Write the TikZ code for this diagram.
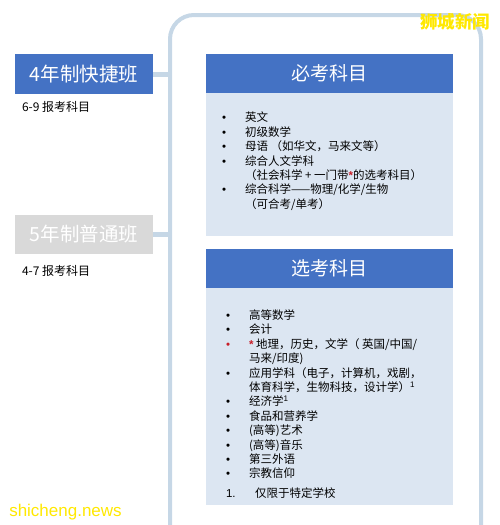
\documentclass[tikz,border=0pt]{standalone}
\usepackage{fontspec}
\setmainfont{Noto Sans CJK SC}
\newfontfamily\latinfont{Liberation Sans}
\usetikzlibrary{positioning}

\definecolor{officeblue}{RGB}{68,114,196}
\definecolor{paleblue}{RGB}{220,230,242}
\definecolor{framegrey}{RGB}{198,215,230}
\definecolor{boxgrey}{RGB}{217,217,217}
\definecolor{markred}{RGB}{200,30,40}
\definecolor{stampyellow}{RGB}{255,232,0}

\newcommand{\redmark}{\textcolor{markred}{\latinfont\bfseries *}}
\newcommand{\bul}{{\latinfont •}}
\newcommand{\fnote}{\textsuperscript{\latinfont 1}}

\begin{document}
\begin{tikzpicture}[
  x=1pt, y=-1pt,
  track/.style={
    fill=officeblue,
    text=white,
    minimum width=138pt,
    minimum height=40pt,
    inner sep=0pt,
    font=\fontsize{19.5}{22}\selectfont
  },
  header/.style={
    fill=officeblue,
    text=white,
    minimum width=247pt,
    minimum height=38.5pt,
    inner sep=0pt,
    font=\fontsize{19}{22}\selectfont
  },
  body/.style={
    fill=paleblue,
    minimum width=247pt,
    inner sep=0pt
  },
  listtext/.style={
    inner sep=0pt,
    anchor=north west,
    font=\fontsize{11.5}{14.4}\selectfont
  },
  note/.style={inner sep=0pt, font=\fontsize{12}{14}\selectfont},
  frame/.style={draw=framegrey, line width=4pt, rounded corners=24pt},
  link/.style={draw=framegrey, line width=5pt},
  stamp/.style={inner sep=0pt, text=stampyellow}
]
\useasboundingbox (0,0) rectangle (500,525);

% Frame
\draw[frame] (170,526) -- (170,15) -- (481,15) -- (481,526);
\coordinate (frameleft) at (170,15);

% Tracks
\node[track] (fast) at (84,74) {4年制快捷班};
\node[track, fill=boxgrey, minimum height=39pt] (normal) at (84,234.5) {5年制普通班};
\node[note, below right=7pt and 7pt of fast.south west] (fastnote) {6-9 报考科目};
\node[note, below right=11pt and 7pt of normal.south west] (normalnote) {4-7 报考科目};

% Links
\draw[link] (fast.east) -- (fast.east -| frameleft);
\draw[link] (normal.east) -- (normal.east -| frameleft);

% Required subjects
\node[header] (reqhead) at (329.5,73.25) {必考科目};
\node[body, minimum height=143pt, below=0pt of reqhead] (reqbody) {};
\node[listtext, below right=19pt and 16pt of reqbody.north west] (reqlist) {%
\begin{tabular}{@{}p{23pt}@{}l@{}}
\bul & 英文\\
\bul & 初级数学\\
\bul & 母语 （如华文，马来文等）\\
\bul & 综合人文学科\\
     & （社会科学 + 一门带\redmark 的选考科目）\\
\bul & 综合科学——物理/化学/生物\\
     & （可合考/单考）
\end{tabular}};

% Elective subjects
\node[header, minimum height=39pt] (elehead) at (329.5,268.5) {选考科目};
\node[body, minimum height=217pt, below=0pt of elehead] (elebody) {};
\node[listtext, below right=21pt and 20pt of elebody.north west] (elelist) {%
\begin{tabular}{@{}p{23pt}@{}l@{}}
\bul & 高等数学\\
\bul & 会计\\
\textcolor{markred}{\bul} & \redmark\ 地理，历史，文学（ 英国/中国/\\
     & 马来/印度)\\
\bul & 应用学科（电子，计算机，戏剧，\\
     & 体育科学，生物科技，设计学）\fnote\\
\bul & 经济学\fnote\\
\bul & 食品和营养学\\
\bul & (高等)艺术\\
\bul & (高等)音乐\\
\bul & 第三外语\\
\bul & 宗教信仰\\[5.6pt]
{\latinfont 1.} & \hspace{6pt}仅限于特定学校
\end{tabular}};

% Watermarks
\node[stamp, font=\fontsize{17.5}{20}\selectfont\bfseries] (stampcn) at (455,22) {狮城新闻};
\node[stamp, font=\latinfont\fontsize{17}{20}\selectfont] (stampen) at (65.5,512) {shicheng.news};

\end{tikzpicture}
\end{document}
